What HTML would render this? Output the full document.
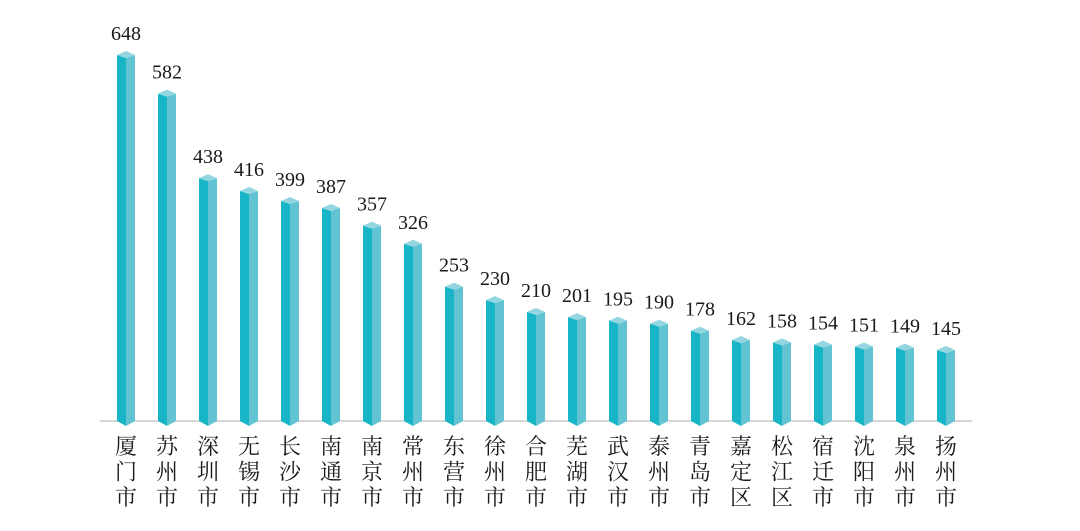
<!DOCTYPE html>
<html><head><meta charset="utf-8"><style>
html,body{margin:0;padding:0;background:#fff;}
svg{display:block;}
text{font-family:"Liberation Serif","Noto Serif CJK SC",serif;fill:#1a1a1a;}
</style></head><body>
<svg id="chart" width="1080" height="531" viewBox="0 0 1080 531" xmlns="http://www.w3.org/2000/svg">
<line x1="100" y1="421" x2="972" y2="421" stroke="#c8c8c8" stroke-width="1.5"/>
<g id="bars"></g>
</svg>
<script>
const categories=["厦门市","苏州市","深圳市","无锡市","长沙市","南通市","南京市","常州市","东营市","徐州市","合肥市","芜湖市","武汉市","泰州市","青岛市","嘉定区","松江区","宿迁市","沈阳市","泉州市","扬州市"];
const values=[648,582,438,416,399,387,357,326,253,230,210,201,195,190,178,162,158,154,151,149,145];
const NS="http://www.w3.org/2000/svg";
const g=document.getElementById('bars');
function xScale(i){return 126+i*41;}
function yScale(v){return 435-v*0.5865;}
function mk(tag,attrs){const e=document.createElementNS(NS,tag);for(const k in attrs)e.setAttribute(k,attrs[k]);return e;}
values.forEach((v,i)=>{
  const cx=xScale(i),y=yScale(v),w=9;
  const grp=mk('g',{});
  
  
  const front=mk('polygon',{points:`${cx-w},${y} ${cx},${y+3} ${cx},${426} ${cx-w},${421}`,fill:'#17b5c6'});
  const side=mk('polygon',{points:`${cx},${y+3} ${cx+w},${y} ${cx+w},${421} ${cx},${426}`,fill:'#62c4d2'});
  const top=mk('polygon',{points:`${cx-w},${y} ${cx},${y-4} ${cx+w},${y} ${cx},${y+3}`,fill:'#94d6e0'});
  grp.appendChild(front);grp.appendChild(side);grp.appendChild(top);
  g.appendChild(grp);
  const t=mk('text',{x:cx,y:y-15,'text-anchor':'middle','font-size':'20'});
  t.textContent=v;
  
  
  g.appendChild(t);
  const lbl=mk('text',{'text-anchor':'middle','font-size':'22'});
  
  
  [...categories[i]].forEach((ch,k)=>{
    const ts=mk('tspan',{x:cx,y:454+k*25.5});ts.textContent=ch;lbl.appendChild(ts);
  });
  g.appendChild(lbl);
});
</script>
</body></html>
